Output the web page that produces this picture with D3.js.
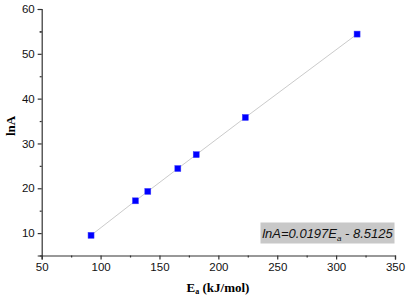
<!DOCTYPE html>
<html>
<head>
<meta charset="utf-8">
<script src="https://cdn.jsdelivr.net/npm/d3@7"></script>
<style>
  body { margin: 0; background: #fff; }
</style>
</head>
<body>
<div id="chart"></div>
<script>
'use strict'

// values
const ea = [91.9, 129.6, 140.1, 165.6, 181.2, 222.9, 317.8]
const lnA = [9.5, 17.2, 19.3, 24.4, 27.5, 35.8, 54.4]
const xTicks = [50, 100, 150, 200, 250, 300, 350]
const yTicks = [10, 20, 30, 40, 50, 60]

const width = 406
const height = 297
const margin = { top: 9, right: 11, bottom: 41.5, left: 41.7 }
const sans = 'Arial, "Liberation Sans", sans-serif'
const serif = '"Times New Roman", "Liberation Serif", serif'

const x = d3.scaleLinear().domain([50, 350]).range([margin.left, width - margin.right])
const y = d3.scaleLinear().domain([5, 60]).range([height - margin.bottom, margin.top])

const svg = d3.select('#chart')
  .append('svg')
  .attr('width', width)
  .attr('height', height)

const points = ea.map((d, i) => [d, lnA[i]])

// axes: major ticks with labels, minor ticks halfway
svg.append('g')
  .attr('transform', `translate(0,${y(5)})`)
  .call(d3.axisBottom(x).tickValues(xTicks).tickSize(4).tickPadding(3))
svg.append('g')
  .attr('transform', `translate(0,${y(5)})`)
  .call(d3.axisBottom(x).tickValues(xTicks.slice(1).map(d => d - 25)).tickSize(2).tickFormat(''))
  .select('.domain').remove()

svg.append('g')
  .attr('transform', `translate(${x(50)},0)`)
  .call(d3.axisLeft(y).tickValues(yTicks).tickSize(4).tickPadding(3))
svg.append('g')
  .attr('transform', `translate(${x(50)},0)`)
  .call(d3.axisLeft(y).tickValues(yTicks.map(d => d - 5).concat([55])).tickSize(2).tickFormat(''))
  .select('.domain').remove()

svg.selectAll('.domain, .tick line').attr('stroke', '#333').attr('stroke-width', 1.2)
svg.selectAll('.tick text')
  .style('font-family', sans)
  .style('font-size', '11.5px')
  .attr('fill', '#111')

// fit line through points
svg.append('path')
  .datum(points)
  .attr('fill', 'none')
  .attr('stroke', '#c4c4c4')
  .attr('stroke-width', 0.9)
  .attr('d', d3.line().x(d => x(d[0])).y(d => y(d[1])))

svg.selectAll('rect.pt')
  .data(points)
  .enter()
  .append('rect')
  .attr('class', 'pt')
  .attr('x', d => x(d[0]) - 3)
  .attr('y', d => y(d[1]) - 3)
  .attr('width', 6)
  .attr('height', 6)
  .attr('fill', '#0000ff')
  .attr('stroke', '#4040ff')
  .attr('stroke-width', 0.5)

// axis titles
svg.append('text')
  .attr('transform', `translate(15,126) rotate(-90)`)
  .attr('text-anchor', 'middle')
  .style('font-family', serif)
  .style('font-weight', 'bold')
  .style('font-size', '13px')
  .text('lnA')

const xt = svg.append('text')
  .attr('x', 218)
  .attr('y', 292)
  .attr('text-anchor', 'middle')
  .style('font-family', serif)
  .style('font-weight', 'bold')
  .style('font-size', '13px')
xt.append('tspan').text('E')
xt.append('tspan').style('font-size', '8px').attr('dy', 2).text('a')
xt.append('tspan').attr('dy', -2).text(' (kJ/mol)')

// equation box
svg.append('rect')
  .attr('x', 260.5)
  .attr('y', 222.5)
  .attr('width', 134)
  .attr('height', 21)
  .attr('fill', '#c8c8c8')

const eq = svg.append('text')
  .attr('x', 327.5)
  .attr('y', 238)
  .attr('text-anchor', 'middle')
  .style('font-family', sans)
  .style('font-style', 'italic')
  .style('font-size', '13px')
  .attr('fill', '#111')
eq.append('tspan').text('lnA=0.0197E')
eq.append('tspan').style('font-size', '8px').attr('dy', 3).text('a')
eq.append('tspan').attr('dy', -3).text(' - 8.5125')
</script>
</body>
</html>
